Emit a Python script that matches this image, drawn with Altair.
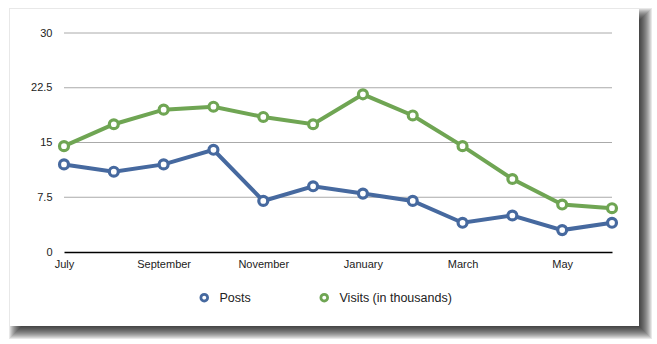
import altair as alt
import pandas as pd

months = ["July", "August", "September", "October", "November", "December",
          "January", "February", "March", "April", "May", "June"]
posts = [12, 11, 12, 14, 7, 9, 8, 7, 4, 5, 3, 4]
visits = [14.5, 17.5, 19.5, 19.9, 18.5, 17.5, 21.6, 18.7, 14.5, 10, 6.5, 6]
series_names = ["Posts", "Visits (in thousands)"]
series_colors = ["#46699f", "#6fa553"]
y_ticks = [0, 7.5, 15, 22.5, 30]
x_label_months = ["July", "September", "November", "January", "March", "May"]

rows = []
for m, p, v in zip(months, posts, visits):
    rows.append({"month": m, "series": series_names[0], "value": p})
    rows.append({"month": m, "series": series_names[1], "value": v})
df = pd.DataFrame(rows)

W, H = 548, 219
FONT = "Liberation Sans"

one = pd.DataFrame({"a": [0]})

# decorative card and soft shadow (plot-area pixel coordinates)
card_x0, card_x1, card_y0, card_y1 = -54, 575, -24, 293
layers = []
N = 13
for e in range(N):
    layers.append(
        alt.Chart(one).mark_rect(color="#000000", opacity=0.09).encode(
            x=alt.value(card_x0 + 11 - e), x2=alt.value(card_x1 + 1 + e),
            y=alt.value(card_y0 + 11 - e), y2=alt.value(card_y1 + 1 + e),
        )
    )
layers.append(
    alt.Chart(one).mark_rect(color="white").encode(
        x=alt.value(card_x0), x2=alt.value(card_x1),
        y=alt.value(card_y0), y2=alt.value(card_y1),
    )
)

yscale = alt.Scale(domain=[0, 30], nice=False)
xscale = alt.Scale(domain=months, padding=0)
cscale = alt.Scale(domain=series_names, range=series_colors)

yaxis = alt.Axis(values=y_ticks, grid=False, domain=False, ticks=False,
                 labelExpr="'' + datum.value", labelFont=FONT, labelFontSize=11,
                 labelColor="#222222", labelPadding=12, zindex=1)

grid = alt.Chart(pd.DataFrame({"value": y_ticks[1:]})).mark_rule(
    color="#aaaaaa", strokeWidth=1
).encode(y=alt.Y("value:Q", scale=yscale, title=None, axis=yaxis))

base = alt.Chart(df).encode(
    x=alt.X("month:O", scale=xscale, sort=months, title=None,
            axis=alt.Axis(values=x_label_months, labelAngle=0, ticks=False,
                          domain=True, domainColor="#000000", domainWidth=1.3,
                          labelFont=FONT, labelFontSize=11, labelColor="#222222",
                          labelPadding=6, zindex=1, labelFlush=False)),
    y=alt.Y("value:Q", scale=yscale, title=None, axis=yaxis),
    color=alt.Color("series:N", scale=cscale, sort=series_names, title=None,
                    legend=alt.Legend(orient="none", legendX=134, legendY=258,
                                      direction="horizontal", symbolType="circle",
                                      symbolFillColor="white", symbolStrokeWidth=2.8,
                                      symbolSize=45, labelFont=FONT,
                                      labelFontSize=12.5, labelColor="#222222",
                                      labelOffset=9, columnPadding=64)),
)

lines = base.mark_line(strokeWidth=4)
points = base.mark_point(filled=False, fill="white", fillOpacity=1, size=80,
                         strokeWidth=3.2, opacity=1)

chart = alt.layer(*layers, grid, lines, points).properties(
    width=W, height=H,
    autosize=alt.AutoSizeParams(type="none"),
    padding={"left": 64, "top": 33, "right": 45, "bottom": 92},
).configure(background="white").configure_view(stroke=None)

chart.save("out.html", embed_options={"renderer": "svg", "actions": False})
